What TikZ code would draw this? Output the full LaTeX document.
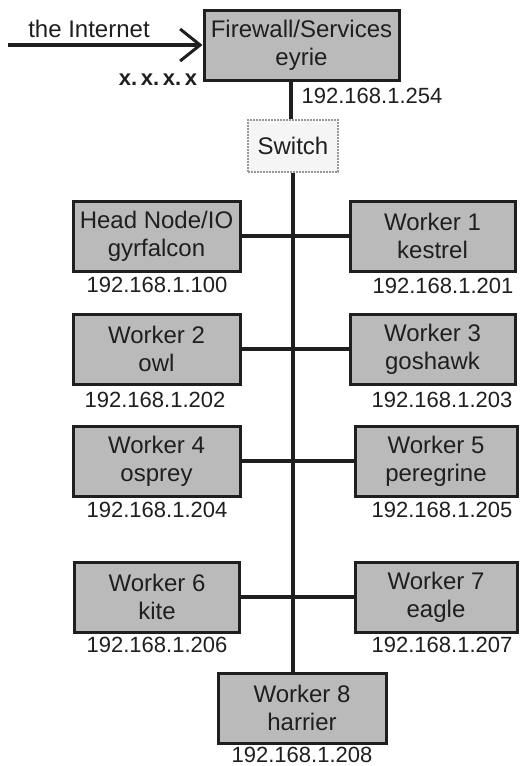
\documentclass[tikz,border=0pt]{standalone}
\usepackage{fontspec}
\setmainfont{Liberation Sans}
\usetikzlibrary{arrows.meta}
\begin{document}
\begin{tikzpicture}[x=1pt,y=-1pt,
  box/.style={draw=black!88,line width=3pt,fill=black!27,rectangle,align=center,
    minimum height=70pt,inner sep=0pt,font=\fontsize{24}{28}\selectfont,text=black!88},
  sw/.style={draw=black!40,densely dotted,line width=2pt,fill=black!4,rectangle,
    minimum width=90pt,minimum height=52pt,inner sep=0pt,font=\fontsize{24}{28}\selectfont,text=black!88},
  ip/.style={font=\fontsize{22}{26}\selectfont,text=black!88,inner sep=0pt},
  wire/.style={draw=black!88,line width=3.2pt}]
\useasboundingbox[fill=white] (0,0) rectangle (521,766);
% nodes
\node[box,minimum width=195pt] (fw) at (301.5,45) {Firewall/Services\\eyrie};
\node[sw] (sw) at (293,146) {Switch};
\node[box,minimum width=167pt] (hn) at (156.5,236) {Head Node/IO\\gyrfalcon};
\node[box,minimum width=165pt] (w1) at (432.5,236) {Worker 1\\kestrel};
\node[box,minimum width=167pt] (w2) at (156.5,349) {Worker 2\\owl};
\node[box,minimum width=165pt] (w3) at (432.5,349) {Worker 3\\goshawk};
\node[box,minimum width=167pt] (w4) at (156.5,461) {Worker 4\\osprey};
\node[box,minimum width=162pt] (w5) at (436,461) {Worker 5\\peregrine};
\node[box,minimum width=165pt] (w6) at (157,597) {Worker 6\\kite};
\node[box,minimum width=162pt] (w7) at (436,597) {Worker 7\\eagle};
\node[box,minimum width=168pt] (w8) at (302,708) {Worker 8\\harrier};
% labels
\node[ip,font=\fontsize{24}{28}\selectfont] (inetlbl) at (89,29) {the Internet};
\node[ip,font=\fontsize{22}{26}\selectfont\bfseries] (xlbl) at (158,80) {x.\,x.\,x.\,x};
\node[ip] (fwip) at (372,96) {192.168.1.254};
\node[ip] (hnip) at (157,285) {192.168.1.100};
\node[ip] (w1ip) at (443,286) {192.168.1.201};
\node[ip] (w2ip) at (155,400) {192.168.1.202};
\node[ip] (w3ip) at (442,400) {192.168.1.203};
\node[ip] (w4ip) at (157,510) {192.168.1.204};
\node[ip] (w5ip) at (442,510) {192.168.1.205};
\node[ip] (w6ip) at (157,645) {192.168.1.206};
\node[ip] (w7ip) at (442,645) {192.168.1.207};
\node[ip] (w8ip) at (302,755) {192.168.1.208};
% connectors
\coordinate (inet) at (8,45);
\draw[wire,-{Straight Barb[length=20pt,width=32pt,line width=3pt]}] (inet) -- (fw.west);
\draw[wire] ([xshift=-2pt]sw.north) -- ([xshift=-2pt]sw.north |- fw.south);
\draw[wire] (sw.south) -- (sw.south |- w8.north);
\draw[wire] (hn) -- (w1);
\draw[wire] (w2) -- (w3);
\draw[wire] (w4) -- (w5);
\draw[wire] (w6) -- (w7);
\end{tikzpicture}
\end{document}
